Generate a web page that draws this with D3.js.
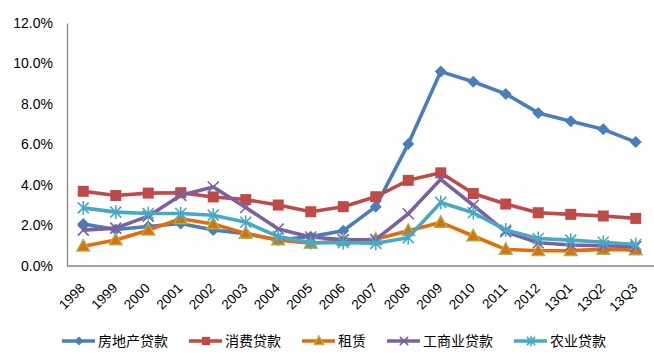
<!DOCTYPE html>
<html><head><meta charset="utf-8">
<script src="https://cdn.jsdelivr.net/npm/d3@7"></script>
<style>body{margin:0;background:#fff}svg{display:block}</style>
</head><body><svg id="c" width="654" height="360"></svg>
<script>
const categories = ["1998","1999","2000","2001","2002","2003","2004","2005","2006","2007","2008","2009","2010","2011","2012","13Q1","13Q2","13Q3"];
const realEstate = [2.07,1.80,1.95,2.10,1.78,1.60,1.28,1.45,1.74,2.93,6.03,9.60,9.10,8.50,7.56,7.15,6.75,6.12];
const consumer   = [3.69,3.48,3.60,3.62,3.41,3.28,3.01,2.68,2.93,3.42,4.23,4.60,3.58,3.06,2.63,2.55,2.47,2.35];
const leasing    = [0.98,1.28,1.77,2.33,2.07,1.61,1.28,1.12,1.25,1.32,1.74,2.15,1.48,0.82,0.75,0.76,0.82,0.79];
const industrial = [1.77,1.87,2.46,3.49,3.90,2.89,1.83,1.43,1.30,1.30,2.58,4.28,3.00,1.69,1.15,1.04,1.00,0.95];
const agri       = [2.87,2.66,2.59,2.59,2.51,2.16,1.45,1.15,1.15,1.12,1.40,3.14,2.63,1.78,1.36,1.28,1.17,1.06];
const yTicks = [0,2,4,6,8,10,12];
const seriesNames = ["房地产贷款","消费贷款","租赁","工商业贷款","农业贷款"];

const series = [
  {name:seriesNames[0], values:realEstate, color:"#4A7EBB", marker:"diamond"},
  {name:seriesNames[1], values:consumer, color:"#BE4B48", marker:"square"},
  {name:seriesNames[2], values:leasing, color:"#E46C0A", marker:"triangle"},
  {name:seriesNames[3], values:industrial, color:"#7D60A0", marker:"x"},
  {name:seriesNames[4], values:agri, color:"#46AAC5", marker:"star"}
];

const svg = d3.select("#c");
const mLeft = 67, mRight = 652, mTop = 23, mBottom = 266;
const x = d3.scalePoint().domain(categories).range([mLeft, mRight]).padding(0.5);
const y = d3.scaleLinear().domain([0, 12]).range([mBottom, mTop]);
const font = "'Liberation Sans', Arial, sans-serif";

// axes
const yAxis = svg.append("g").attr("transform",`translate(${mLeft},0)`)
  .call(d3.axisLeft(y).tickValues(yTicks).tickSize(0).tickPadding(14).tickFormat(d => d.toFixed(1) + "%"));
yAxis.select(".domain").attr("stroke","#868686").attr("stroke-width",1.3);
yAxis.selectAll("text").attr("font-family",font).attr("font-size",14).attr("fill","#000");

const xAxis = svg.append("g").attr("transform",`translate(0,${mBottom})`)
  .call(d3.axisBottom(x).tickSize(0).tickPadding(0));
xAxis.select(".domain").attr("d",`M${mLeft},0H654`).attr("stroke","#868686").attr("stroke-width",1.3);
xAxis.selectAll("text")
  .attr("font-family",font).attr("font-size",13.5).attr("fill","#000")
  .attr("text-anchor","end").attr("dy",null).attr("y",null)
  .attr("transform","translate(2,23) rotate(-45)");

function drawMarker(g, type, color, s) {
  if (type === "diamond") {
    g.append("path").attr("d",`M0,${-s}L${s},0L0,${s}L${-s},0Z`).attr("fill",color);
  } else if (type === "square") {
    g.append("rect").attr("x",-s).attr("y",-s).attr("width",2*s).attr("height",2*s).attr("fill",color);
  } else if (type === "triangle") {
    g.append("path").attr("d",`M0,${-s*1.05}L${s},${s*0.75}L${-s},${s*0.75}Z`)
      .attr("fill",color).attr("stroke","#9BBB59").attr("stroke-width",1.3);
  } else if (type === "x") {
    g.append("path").attr("d",`M${-s},${-s}L${s},${s}M${-s},${s}L${s},${-s}`)
      .attr("stroke",color).attr("stroke-width",1.6);
  } else if (type === "star") {
    g.append("path").attr("d",`M${-s},${-s}L${s},${s}M${-s},${s}L${s},${-s}M0,${-s*1.25}V${s*1.25}`)
      .attr("stroke",color).attr("stroke-width",1.6);
  }
}
const markerSize = {diamond:6, square:5.5, triangle:6.5, x:5.5, star:5.5};

const line = d3.line().x((d,i) => x(categories[i])).y(d => y(d));
series.forEach(s => {
  const g = svg.append("g");
  g.append("path").datum(s.values).attr("d",line).attr("fill","none")
    .attr("stroke",s.color).attr("stroke-width",3.6).attr("stroke-linejoin","round");
  s.values.forEach((v,i) => {
    const m = g.append("g").attr("transform",`translate(${x(categories[i])},${y(v)})`);
    drawMarker(m, s.marker, s.color, markerSize[s.marker]);
  });
});

// legend
const lg = svg.append("g").attr("transform","translate(62,341)");
let cx = 0;
series.forEach(s => {
  const e = lg.append("g").attr("transform",`translate(${cx},0)`);
  e.append("line").attr("x1",0).attr("x2",33).attr("y1",0).attr("y2",0)
    .attr("stroke",s.color).attr("stroke-width",3.6);
  const m = e.append("g").attr("transform","translate(17,0)");
  drawMarker(m, s.marker, s.color, markerSize[s.marker]*0.75);
  const t = e.append("text").attr("x",36).attr("y",5).text(s.name)
    .attr("font-family","'Noto Sans CJK SC', sans-serif").attr("font-size",14).attr("fill","#000");
  cx += 36 + t.node().getComputedTextLength() + 21;
});
</script></body></html>
